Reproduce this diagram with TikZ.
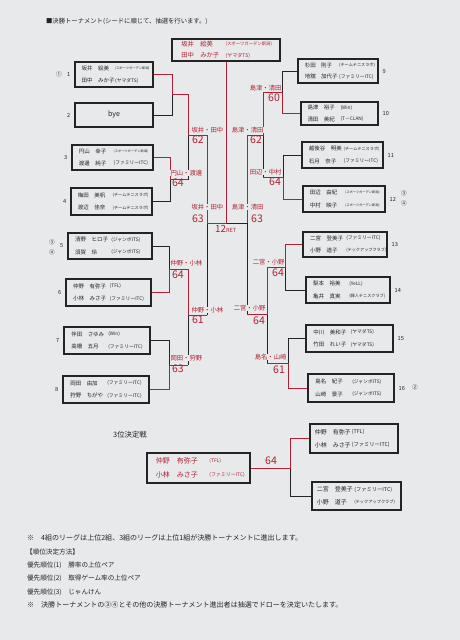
\documentclass[tikz,border=0pt]{standalone}
\usepackage{fontspec}
\setmainfont{Noto Sans CJK JP}
\usetikzlibrary{positioning, calc}
\definecolor{winred}{RGB}{176,32,52}
\definecolor{ink}{RGB}{35,35,40}
\definecolor{paper}{RGB}{231,233,234}
\newcommand{\fsz}[1]{\fontsize{#1}{#1}\selectfont}
\newcommand{\tny}{\fsz{4.6}}
\newcommand{\sml}{\fsz{5.9}}
\newcommand{\nameat}{0.09}
\newcommand{\clubat}{0.52}
\tikzset{
    duo/.style={draw=ink, line width=1.6pt, inner sep=0pt},
    pname/.style={font=\fsz{7.8}, text=ink, inner sep=0pt, anchor=west},
    pclub/.style={font=\fsz{6.8}, text=ink, inner sep=0pt, anchor=west},
    win/.style={draw=winred, line width=1.2pt},
    lose/.style={draw=ink, line width=1.2pt},
    wlabel/.style={text=winred, font=\fsz{9}, fill=paper, inner sep=0.6pt},
    wscore/.style={text=winred, font=\fsz{15}, inner sep=0pt},
    seed/.style={font=\fsz{8}, inner sep=0pt, text=ink},
    note/.style={font=\fsz{10}, text=ink, inner sep=0pt, anchor=west},
}
% box with two players: name, x, y, width, height, name 1, club 1, name 2, club 2
\newcommand{\duobox}[9]{
    \node[duo, minimum width=#4*0.05cm, minimum height=#5*0.05cm] (#1) at (#2,#3) {};
    \node[pname] (#1n1) at ($(#1.west)+(\nameat*#4,-2-0.16*#5)$) {#6};
    \node[pclub] (#1c1) at ($(#1.west)+(\clubat*#4,-2-0.16*#5)$) {#7};
    \node[pname] (#1n2) at ($(#1.west)+(\nameat*#4,2+0.16*#5)$) {#8};
    \node[pclub] (#1c2) at ($(#1.west)+(\clubat*#4,2+0.16*#5)$) {#9};
}

\begin{document}
\begin{tikzpicture}[x=0.05cm, y=-0.05cm]
\fill[paper] (0,0) rectangle (460,640);
\useasboundingbox (0,0) rectangle (460,640);

\node[note, font=\fsz{9}] (title) at (46,21) {■決勝トーナメント(シードに順じて、抽選を行います。)};

% champion
\begin{scope}[pname/.style={font=\fsz{9}, text=winred, inner sep=0pt, anchor=west},
              pclub/.style={font=\fsz{7.2}, text=winred, inner sep=0pt, anchor=west}]
\renewcommand{\clubat}{0.5}
\duobox{champ}{226}{50}{108}{22}{坂井　絵美}{\fsz{6.2}(スポーツガーデン新潟)}{田中　みか子}{(ヤマダTS)}
\end{scope}

% left half
\duobox{p1}{114}{74.5}{78}{25}{坂井　絵美}{\tny(スポーツガーデン新潟)}{田中　みか子}{(ヤマダTS)}
\node[duo, minimum width=78*0.05cm, minimum height=24*0.05cm, font=\fsz{10}, text=ink] (p2) at (114,115) {bye};
\duobox{p3}{112.5}{157.5}{81}{25}{円山　幸子}{\tny(スポーツガーデン新潟)}{渡邊　純子}{(ファミリーITC)}
\duobox{p4}{111.5}{201.5}{81}{27}{梅田　美帆}{\sml(チームテニスラボ)}{渡辺　佳奈}{\sml(チームテニスラボ)}
\duobox{p5}{110}{246}{84}{26}{清野　ヒロ子}{(ジャンボITS)}{須賀　玲}{(ジャンボITS)}
\duobox{p6}{108.5}{292.5}{85}{27}{仲野　有弥子}{(TFL)}{小林　みさ子}{(ファミリーITC)}
\duobox{p7}{107}{340.5}{86}{27}{伴田　さゆみ}{(Win)}{高橋　五月}{(ファミリーITC)}
\duobox{p8}{106}{389.5}{86}{27}{岡田　由加}{(ファミリーITC)}{狩野　ちがや}{(ファミリーITC)}

% right half
\duobox{p9}{338}{71}{80}{24}{杉田　則子}{\sml(チームテニスラボ)}{地舘　加代子}{(ファミリーITC)}
\duobox{p10}{339.5}{113.5}{77}{23}{島津　裕子}{(Win)}{清田　美紀}{(T－CLAN)}
\duobox{p11}{342.5}{155}{81}{26}{越後谷　明美}{\sml(チームテニスラボ)}{石月　奈子}{(ファミリーITC)}
\duobox{p12}{344}{199}{82}{26}{田辺　由紀}{\tny(スポーツガーデン新潟)}{中村　映子}{\tny(スポーツガーデン新潟)}
\duobox{p13}{345}{244.5}{84}{25}{二宮　登美子}{(ファミリーITC)}{小野　道子}{\sml(テックアップクラブ)}
\duobox{p14}{348}{290}{84}{26}{梨本　裕美}{(YeLL)}{亀井　真実}{\sml(婦人テニスクラブ)}
\duobox{p15}{349.5}{338.5}{87}{27}{中川　美和子}{(ヤマダTS)}{竹田　れい子}{(ヤマダTS)}
\duobox{p16}{351}{388}{86}{28}{島名　紀子}{(ジャンボITS)}{山崎　景子}{(ジャンボITS)}

% draw numbers
\foreach \i in {1,...,8}
    \node[seed, anchor=east] (n\i) at ($(p\i.west)+(-4,0)$) {\i};
\foreach \i in {9,...,16}
    \node[seed, anchor=west] (n\i) at ($(p\i.east)+(4,0)$) {\i};
\node[seed] (sd1) at (59,74) {①};
\node[seed] (sd3a) at (52,242) {③};
\node[seed] (sd4a) at (52,252) {④};
\node[seed] (sd3b) at (404,193) {③};
\node[seed] (sd4b) at (404,203) {④};
\node[seed] (sd2) at (415,387) {②};

% junctions
\coordinate (j1) at (172,94.5);
\coordinate (a1) at (188,94.5);
\coordinate (j2) at (170,179.5);
\coordinate (a2) at (188,179.5);
\coordinate (k1) at (188,135);
\coordinate (b1) at (207,135);
\coordinate (j3) at (169,269);
\coordinate (a3) at (188,269);
\coordinate (j4) at (169,365);
\coordinate (a4) at (188,365);
\coordinate (k2) at (188,315);
\coordinate (b2) at (207,315);
\coordinate (s1) at (207,223);
\coordinate (fin) at (226,223);
\coordinate (j5) at (282,92);
\coordinate (a5) at (263,92);
\coordinate (j6) at (283,177);
\coordinate (a6) at (263,177);
\coordinate (k3) at (263,135);
\coordinate (b3) at (247,135);
\coordinate (j7) at (285,267);
\coordinate (a7) at (267,267);
\coordinate (j8) at (288,363);
\coordinate (a8) at (267,363);
\coordinate (k4) at (267,314);
\coordinate (b4) at (247,314);
\coordinate (s2) at (247,223);

% losers
\draw[lose] (p2.east) -| (j1);
\draw[lose] (p4.east) -| (j2);
\draw[lose] (a2) -- (k1);
\draw[lose] (p5.east) -| (j3);
\draw[lose] (p7.east) -| (j4);
\draw[lose] (a4) -- (k2);
\draw[lose] (b2) -- (s1);
\draw[lose] (p9.west) -| (j5);
\draw[lose] (p11.west) -| (j6);
\draw[lose] (a6) -- (k3);
\draw[lose] (p14.west) -| (j7);
\draw[lose] (p15.west) -| (j8);
\draw[lose] (a8) -- (k4);
\draw[lose] (b4) -- (s2);
\draw[lose] (s2) -- (fin);
% winners
\draw[win] (p1.east) -| (j1) -- (a1) -- (k1) -- (b1) -- (s1) -- (fin) -- (champ.south);
\draw[win] (p3.east) -| (j2) -- (a2);
\draw[win] (p6.east) -| (j3) -- (a3) -- (k2) -- (b2);
\draw[win] (p8.east) -| (j4) -- (a4);
\draw[win] (p10.west) -| (j5) -- (a5) -- (k3) -- (b3) -- (s2);
\draw[win] (p12.west) -| (j6) -- (a6);
\draw[win] (p13.west) -| (j7) -- (a7) -- (k4) -- (b4);
\draw[win] (p16.west) -| (j8) -- (a8);

% results
\node[wlabel, anchor=west] (l1) at (170,173) {円山・渡邊};
\node[wscore, anchor=west] (r1) at (172,183) {64};
\node[wlabel, anchor=west] (l2) at (170,263) {仲野・小林};
\node[wscore, anchor=west] (r2) at (172,275) {64};
\node[wlabel, anchor=west] (l3) at (170,358) {岡田・狩野};
\node[wscore, anchor=west] (r3) at (172,369) {63};
\node[wlabel, anchor=west] (l4) at (191,130) {坂井・田中};
\node[wscore, anchor=west] (r4) at (192,140) {62};
\node[wlabel, anchor=west] (l5) at (191,310) {仲野・小林};
\node[wscore, anchor=west] (r5) at (192,320) {61};
\node[wlabel, anchor=west] (l6) at (191,207) {坂井・田中};
\node[wscore, anchor=west] (r6) at (192,219) {63};
\node[wlabel, anchor=east] (l7) at (282,88) {島津・清田};
\node[wscore, anchor=east] (r7) at (280,98) {60};
\node[wlabel, anchor=east] (l8) at (282,172) {田辺・中村};
\node[wscore, anchor=east] (r8) at (281,182) {64};
\node[wlabel, anchor=east] (l9) at (285,262) {二宮・小野};
\node[wscore, anchor=east] (r9) at (284,273) {64};
\node[wlabel, anchor=east] (l10) at (287,357) {島名・山崎};
\node[wscore, anchor=east] (r10) at (285,370) {61};
\node[wlabel, anchor=east] (l11) at (264,130) {島津・清田};
\node[wscore, anchor=east] (r11) at (262,140) {62};
\node[wlabel, anchor=east] (l12) at (266,308) {二宮・小野};
\node[wscore, anchor=east] (r12) at (265,321) {64};
\node[wlabel, anchor=east] (l13) at (264,207) {島津・清田};
\node[wscore, anchor=east] (r13) at (263,219) {63};
\node[wscore, anchor=west, font=\fsz{14}] (ret) at (215,229) {12\fsz{8}RET};

% third place
\node[font=\fsz{10.5}, text=ink, inner sep=0pt] (third) at (130,435) {3位決定戦};
\begin{scope}[pname/.style={font=\fsz{10}, text=winred, inner sep=0pt, anchor=west},
              pclub/.style={font=\fsz{7}, text=winred, inner sep=0pt, anchor=west}]
\renewcommand{\clubat}{0.61}
\duobox{tw}{198.5}{468}{103}{30}{仲野　有弥子}{(TFL)}{小林　みさ子}{(ファミリーITC)}
\end{scope}
\begin{scope}[pname/.style={font=\fsz{8.5}, text=ink, inner sep=0pt, anchor=west},
              pclub/.style={font=\fsz{7.5}, text=ink, inner sep=0pt, anchor=west}]
\renewcommand{\nameat}{0.06}
\renewcommand{\clubat}{0.48}
\duobox{pa}{354}{438.5}{88}{29}{仲野　有弥子}{(TFL)}{小林　みさ子}{(ファミリーITC)}
\duobox{pb}{356.5}{496}{89}{28}{二宮　登美子}{(ファミリーITC)}{小野　道子}{\fsz{6}(テックアップクラブ)}
\end{scope}
\coordinate (j9) at (290,468);
\draw[lose] (pb.west) -| (j9);
\draw[win] (pa.west) -| (j9) -- (tw.east);
\node[wscore] (tsc) at (271,461) {64};

% notes
\node[note] (nt1) at (27,538) {※　4組のリーグは上位2組、3組のリーグは上位1組が決勝トーナメントに進出します。};
\node[note, font=\fsz{9.4}] (nt2) at (26,552) {【順位決定方法】};
\node[note, font=\fsz{9.4}] (nt3) at (27,565) {優先順位(1)　勝率の上位ペア};
\node[note, font=\fsz{9.4}] (nt4) at (27,578) {優先順位(2)　取得ゲーム率の上位ペア};
\node[note, font=\fsz{9.4}] (nt5) at (27,592) {優先順位(3)　じゃんけん};
\node[note] (nt6) at (27,605) {※　決勝トーナメントの③④とその他の決勝トーナメント進出者は抽選でドローを決定いたします。};
\end{tikzpicture}
\end{document}
